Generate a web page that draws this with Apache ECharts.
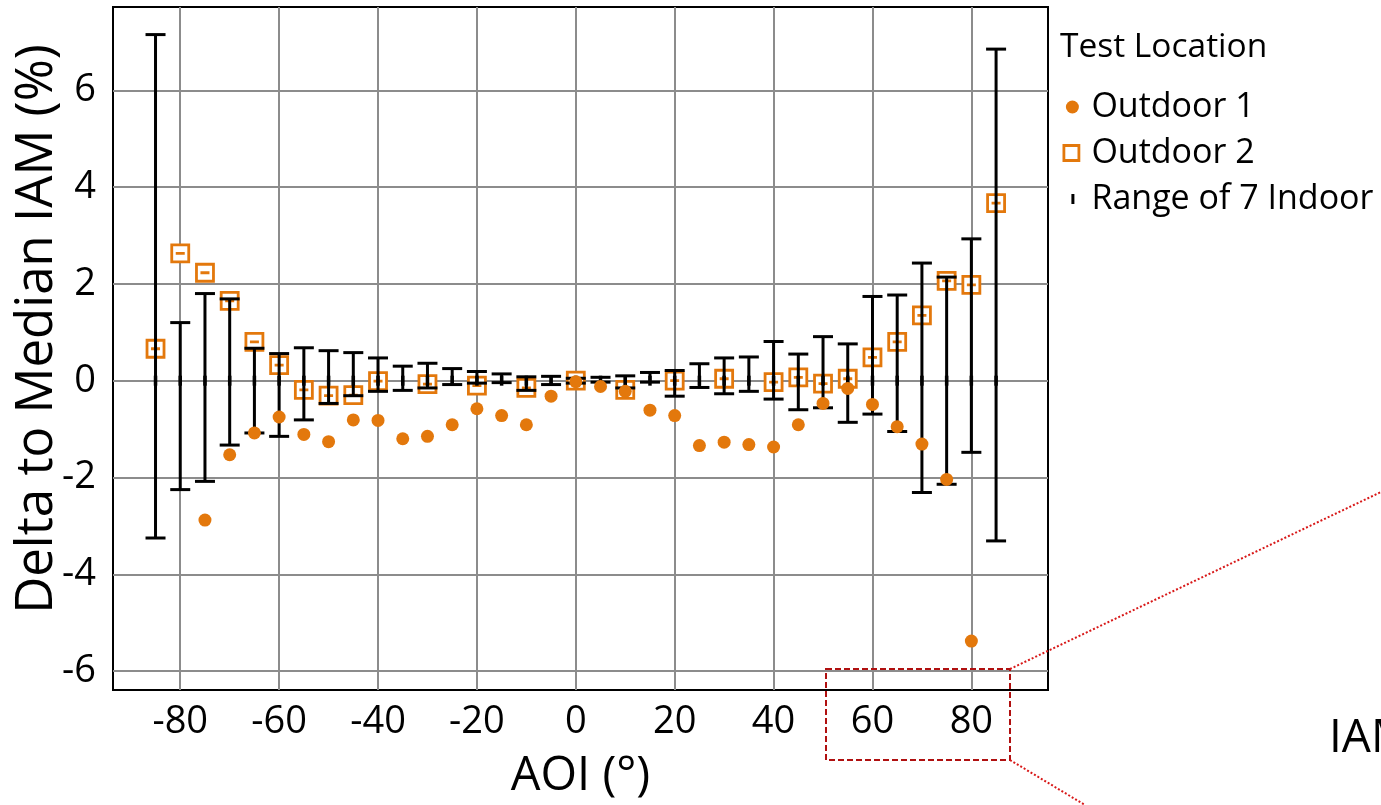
<!DOCTYPE html>
<html>
<head>
<meta charset="utf-8">
<title>Delta to Median IAM</title>
<script src="https://cdn.jsdelivr.net/npm/echarts@6/dist/echarts.min.js"></script>
<style>
  html, body { margin: 0; padding: 0; background: #ffffff; }
  #chart { width: 1381px; height: 805px; }
</style>
</head>
<body>
<div id="chart"></div>
<script>
// Angle-of-incidence tick labels (degrees) and value-axis tick labels (%)
const xTicks = [-80, -60, -40, -20, 0, 20, 40, 60, 80];
const yTicks = [-6, -4, -2, 0, 2, 4, 6];

// Outdoor 1: AOI and delta to median IAM (%)
const outdoor1Aoi = [-75, -70, -65, -60, -55, -50, -45, -40, -35, -30, -25, -20, -15, -10, -5, 0, 5, 10, 15, 20, 25, 30, 35, 40, 45, 50, 55, 60, 65, 70, 75, 80];
const outdoor1Delta = [-2.88, -1.53, -1.08, -0.75, -1.11, -1.26, -0.81, -0.82, -1.20, -1.15, -0.91, -0.58, -0.72, -0.91, -0.32, -0.02, -0.12, -0.22, -0.61, -0.72, -1.34, -1.27, -1.32, -1.37, -0.91, -0.47, -0.16, -0.49, -0.95, -1.31, -2.04, -5.38];

// Outdoor 2: AOI and delta to median IAM (%)
const outdoor2Aoi = [-85, -80, -75, -70, -65, -60, -55, -50, -45, -40, -30, -20, -10, 0, 10, 20, 30, 40, 45, 50, 55, 60, 65, 70, 75, 80, 85];
const outdoor2Delta = [0.66, 2.63, 2.23, 1.65, 0.80, 0.32, -0.19, -0.31, -0.30, -0.01, -0.07, -0.10, -0.15, 0.00, -0.19, 0.00, 0.04, -0.03, 0.07, -0.06, 0.04, 0.48, 0.80, 1.35, 2.06, 1.98, 3.67];

// Range of the 7 indoor measurements: AOI, lowest and highest delta (%)
const indoorAoi = [-85, -80, -75, -70, -65, -60, -55, -50, -45, -40, -35, -30, -25, -20, -15, -10, -5, 0, 5, 10, 15, 20, 25, 30, 35, 40, 45, 50, 55, 60, 65, 70, 75, 80, 85];
const indoorLow = [-3.25, -2.25, -2.08, -1.33, -1.08, -1.15, -0.81, -0.47, -0.31, -0.22, -0.20, -0.15, -0.08, -0.05, -0.04, -0.20, -0.08, -0.05, -0.03, -0.15, -0.03, -0.32, -0.14, -0.27, -0.22, -0.38, -0.60, -0.56, -0.86, -0.69, -1.05, -2.31, -2.14, -1.48, -3.31];
const indoorHigh = [7.15, 1.20, 1.80, 1.69, 0.67, 0.56, 0.68, 0.62, 0.58, 0.47, 0.30, 0.36, 0.25, 0.19, 0.14, 0.08, 0.09, 0.05, 0.07, 0.10, 0.17, 0.21, 0.35, 0.47, 0.49, 0.81, 0.55, 0.91, 0.76, 1.74, 1.77, 2.43, 2.14, 2.93, 6.85];
const indoorMedian = indoorAoi.map(() => 0);

const ORANGE = '#E3780C';
const FONT = '"Open Sans", "Noto Sans", sans-serif';

const chart = echarts.init(document.getElementById('chart'), null, { renderer: 'canvas' });

const rangeData = indoorAoi.map((x, i) => [x, indoorLow[i], indoorHigh[i], indoorMedian[i]]);

// Whisker with end caps plus a short median tick
function renderRange(params, api) {
  const x = api.value(0);
  const lo = api.coord([x, api.value(1)]);
  const hi = api.coord([x, api.value(2)]);
  const md = api.coord([x, api.value(3)]);
  const cap = 10;
  const style = { stroke: '#000', lineWidth: 3, fill: null };
  return {
    type: 'group',
    children: [
      { type: 'line', shape: { x1: lo[0], y1: lo[1], x2: hi[0], y2: hi[1] }, style },
      { type: 'line', shape: { x1: hi[0] - cap, y1: hi[1], x2: hi[0] + cap, y2: hi[1] }, style },
      { type: 'line', shape: { x1: lo[0] - cap, y1: lo[1], x2: lo[0] + cap, y2: lo[1] }, style },
      { type: 'line', shape: { x1: md[0], y1: md[1] - 5, x2: md[0], y2: md[1] + 5 }, style: { stroke: '#000', lineWidth: 3.5, fill: null } }
    ]
  };
}

const option = {
  backgroundColor: '#ffffff',
  animation: false,
  grid: {
    left: 113, right: 333, top: 7, bottom: 114,
    show: true, borderColor: '#000', borderWidth: 2, backgroundColor: 'transparent'
  },
  xAxis: {
    type: 'value',
    min: -93.6, max: 95.5,
    name: 'AOI (°)',
    nameLocation: 'middle',
    nameGap: 63,
    nameTextStyle: { fontFamily: FONT, fontSize: 47, color: '#000' },
    axisLine: { show: false },
    axisTick: { show: false, customValues: xTicks },
    axisLabel: { customValues: xTicks, fontFamily: FONT, fontSize: 38, color: '#000', margin: 13 },
    splitLine: { show: true, lineStyle: { color: '#8c8c8c', width: 2 } }
  },
  yAxis: {
    type: 'value',
    min: -6.39, max: 7.72,
    axisLine: { show: false },
    axisTick: { show: false, customValues: yTicks },
    axisLabel: { customValues: yTicks, fontFamily: FONT, fontSize: 38, color: '#000', margin: 17 },
    splitLine: { show: true, lineStyle: { color: '#8c8c8c', width: 2 } }
  },
  legend: {
    orient: 'vertical',
    left: 1056,
    top: 85,
    itemWidth: 24,
    itemHeight: 18,
    itemGap: 12,
    selectedMode: false,
    textStyle: { fontFamily: FONT, fontSize: 34, color: '#000', lineHeight: 34 },
    data: [
      { name: 'Outdoor 1', icon: 'path://M0,0M24,18M16.5,9A6.5,6.5,0,1,1,3.5,9A6.5,6.5,0,1,1,16.5,9Z',
        itemStyle: { color: ORANGE, borderWidth: 0 } },
      { name: 'Outdoor 2', icon: 'path://M0,0M24,18M1.5,1.5H16.5V16.5H1.5Z',
        itemStyle: { color: '#fff', borderColor: ORANGE, borderWidth: 2.8 } },
      { name: 'Range of 7 Indoor', icon: 'path://M0,0M24,18M9,4H12V14H9Z',
        itemStyle: { color: '#000', borderWidth: 0 } }
    ]
  },
  graphic: [
    // value-axis title, reading bottom to top
    { type: 'text', x: 37, y: 329, rotation: Math.PI / 2,
      style: { text: 'Delta to Median IAM (%)', font: '51px "Open Sans", "Noto Sans", sans-serif',
               fill: '#000', textAlign: 'center', textVerticalAlign: 'middle' } },
    { type: 'text', left: 1060, top: 30,
      style: { text: 'Test Location', font: '33.5px "Open Sans", "Noto Sans", sans-serif', fill: '#000' } },
    // zoom-out callout box and leader lines
    { type: 'rect', shape: { x: 826, y: 669, width: 184, height: 91 },
      style: { fill: null, stroke: '#B01010', lineWidth: 2, lineDash: [6, 3] }, z: 20 },
    { type: 'line', shape: { x1: 1010, y1: 669, x2: 1381, y2: 492 },
      style: { stroke: '#D81818', lineWidth: 2, lineDash: [2, 2] }, z: 20 },
    { type: 'line', shape: { x1: 1010, y1: 760, x2: 1085, y2: 805 },
      style: { stroke: '#D81818', lineWidth: 2, lineDash: [2, 2] }, z: 20 },
    { type: 'text', left: 1329, top: 716,
      style: { text: 'IAM', font: '46px "Open Sans", "Noto Sans", sans-serif', fill: '#000' } }
  ],
  series: [
    {
      name: 'Outdoor 2',
      type: 'scatter',
      z: 2,
      symbol: 'path://M0,0H17V17H0Z M4,8.5H13',
      symbolSize: 17,
      itemStyle: { color: '#fff', borderColor: ORANGE, borderWidth: 2.8, opacity: 1 },
      data: outdoor2Aoi.map((x, i) => [x, outdoor2Delta[i]])
    },
    {
      name: 'Range of 7 Indoor',
      type: 'custom',
      z: 3,
      renderItem: renderRange,
      itemStyle: { color: '#000' },
      encode: { x: 0, y: [1, 2] },
      data: rangeData
    },
    {
      name: 'Outdoor 1',
      type: 'scatter',
      z: 4,
      symbol: 'circle',
      symbolSize: 13,
      itemStyle: { color: ORANGE, opacity: 1 },
      data: outdoor1Aoi.map((x, i) => [x, outdoor1Delta[i]])
    }
  ]
};

chart.setOption(option);
</script>
</body>
</html>
